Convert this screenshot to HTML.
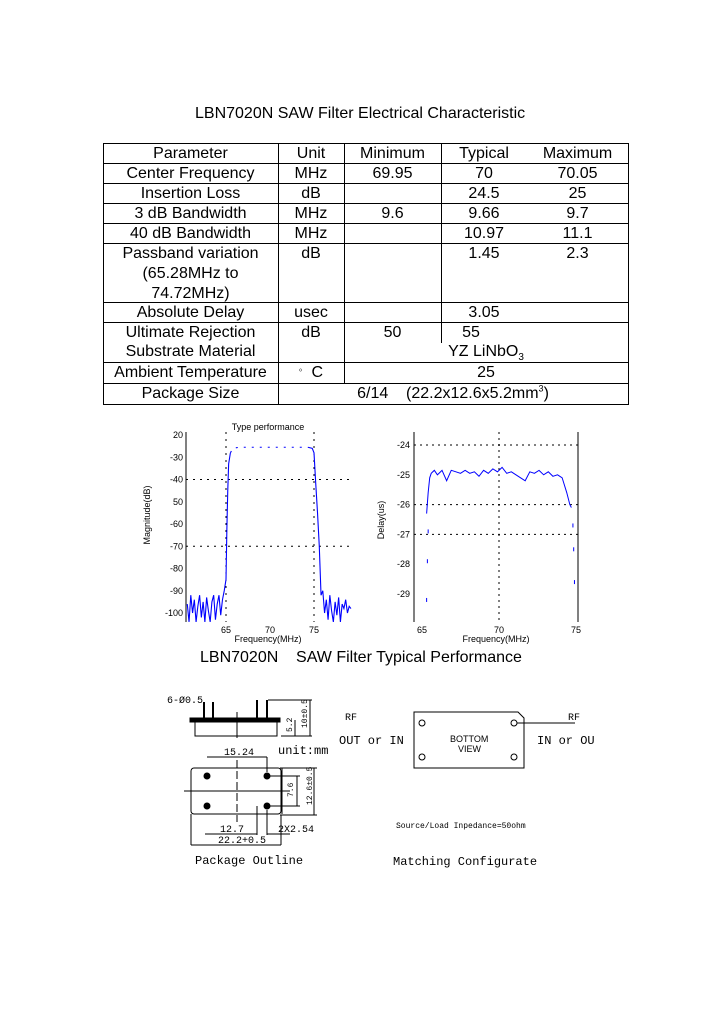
<!DOCTYPE html>
<html><head><meta charset="utf-8"><style>
body{margin:0;background:#fff;font-family:"Liberation Sans",sans-serif;}
#page{position:relative;width:720px;height:1012px;background:#fff;overflow:hidden;}
.t{position:absolute;white-space:nowrap;color:#000;}
.c{position:absolute;text-align:center;font-size:16px;line-height:20px;}
.c sup,.c sub{line-height:0;}
.hl{position:absolute;height:1px;background:#000;}
.vl{position:absolute;width:1px;background:#000;}
</style></head><body>
<div id="page">
<div class="t" style="left:195px;top:105px;font-size:16px;">LBN7020N SAW Filter Electrical Characteristic</div>

<div id="tbl" style="position:absolute;left:0;top:0;width:720px;height:420px;">
 <div class="hl" style="left:103px;top:143px;width:526px"></div>
 <div class="hl" style="left:103px;top:163px;width:526px"></div>
 <div class="hl" style="left:103px;top:183px;width:526px"></div>
 <div class="hl" style="left:103px;top:203px;width:526px"></div>
 <div class="hl" style="left:103px;top:223px;width:526px"></div>
 <div class="hl" style="left:103px;top:243px;width:526px"></div>
 <div class="hl" style="left:103px;top:302px;width:526px"></div>
 <div class="hl" style="left:103px;top:322px;width:526px"></div>
 <div class="hl" style="left:103px;top:362px;width:526px"></div>
 <div class="hl" style="left:103px;top:383px;width:526px"></div>
 <div class="hl" style="left:103px;top:404px;width:526px"></div>
 <div class="vl" style="left:103px;top:143px;height:262px"></div>
 <div class="vl" style="left:628px;top:143px;height:262px"></div>
 <div class="vl" style="left:278px;top:143px;height:262px"></div>
 <div class="vl" style="left:344px;top:143px;height:241px"></div>
 <div class="vl" style="left:441px;top:143px;height:200px"></div>

 <div class="c" style="left:103px;width:175px;top:144px">Parameter</div>
 <div class="c" style="left:278px;width:66px;top:144px">Unit</div>
 <div class="c" style="left:344px;width:97px;top:144px">Minimum</div>
 <div class="c" style="left:441px;width:86px;top:144px">Typical</div>
 <div class="c" style="left:527px;width:101px;top:144px">Maximum</div>

 <div class="c" style="left:103px;width:175px;top:164px">Center Frequency</div>
 <div class="c" style="left:278px;width:66px;top:164px">MHz</div>
 <div class="c" style="left:344px;width:97px;top:164px">69.95</div>
 <div class="c" style="left:441px;width:86px;top:164px">70</div>
 <div class="c" style="left:527px;width:101px;top:164px">70.05</div>

 <div class="c" style="left:103px;width:175px;top:184px">Insertion Loss</div>
 <div class="c" style="left:278px;width:66px;top:184px">dB</div>
 <div class="c" style="left:441px;width:86px;top:184px">24.5</div>
 <div class="c" style="left:527px;width:101px;top:184px">25</div>

 <div class="c" style="left:103px;width:175px;top:204px">3 dB Bandwidth</div>
 <div class="c" style="left:278px;width:66px;top:204px">MHz</div>
 <div class="c" style="left:344px;width:97px;top:204px">9.6</div>
 <div class="c" style="left:441px;width:86px;top:204px">9.66</div>
 <div class="c" style="left:527px;width:101px;top:204px">9.7</div>

 <div class="c" style="left:103px;width:175px;top:224px">40 dB Bandwidth</div>
 <div class="c" style="left:278px;width:66px;top:224px">MHz</div>
 <div class="c" style="left:441px;width:86px;top:224px">10.97</div>
 <div class="c" style="left:527px;width:101px;top:224px">11.1</div>

 <div class="c" style="left:103px;width:175px;top:244px">Passband variation<br>(65.28MHz to<br>74.72MHz)</div>
 <div class="c" style="left:278px;width:66px;top:244px">dB</div>
 <div class="c" style="left:441px;width:86px;top:244px">1.45</div>
 <div class="c" style="left:527px;width:101px;top:244px">2.3</div>

 <div class="c" style="left:103px;width:175px;top:303px">Absolute Delay</div>
 <div class="c" style="left:278px;width:66px;top:303px">usec</div>
 <div class="c" style="left:441px;width:86px;top:303px">3.05</div>

 <div class="c" style="left:103px;width:175px;top:323px">Ultimate Rejection</div>
 <div class="c" style="left:278px;width:66px;top:323px">dB</div>
 <div class="c" style="left:344px;width:97px;top:323px">50</div>
 <div class="c" style="left:441px;width:60px;top:323px">55</div>
 <div class="c" style="left:103px;width:175px;top:342px">Substrate Material</div>
 <div class="c" style="left:344px;width:284px;top:342px">YZ LiNbO<sub style="font-size:10px">3</sub></div>

 <div class="c" style="left:103px;width:175px;top:363px">Ambient Temperature</div>
 <div class="c" style="left:278px;width:66px;top:363px"><sup style="font-size:8px">。</sup> C</div>
 <div class="c" style="left:344px;width:284px;top:363px">25</div>

 <div class="c" style="left:103px;width:175px;top:384px">Package Size</div>
 <div class="c" style="left:278px;width:350px;top:384px">6/14&nbsp;&nbsp;&nbsp;&nbsp;(22.2x12.6x5.2mm<sup style="font-size:9px">3</sup>)</div>
</div>

<svg id="charts" width="720" height="1012" style="position:absolute;left:0;top:0" font-family="Liberation Sans, sans-serif"></svg>

<div class="t" style="left:200px;top:649px;font-size:16px;">LBN7020N&nbsp;&nbsp;&nbsp;&nbsp;SAW Filter Typical Performance</div>

<svg width="720" height="1012" style="position:absolute;left:0;top:0" font-family="Liberation Mono, monospace" font-size="10" stroke="#000" fill="none">
 <g>
  <rect x="190" y="718" width="90" height="4" fill="#000"/>
  <rect x="195" y="722" width="82" height="14"/>
  <line x1="204" y1="702" x2="204" y2="718" stroke-width="2"/>
  <line x1="213" y1="702" x2="213" y2="718" stroke-width="2"/>
  <line x1="257" y1="700" x2="257" y2="718" stroke-width="2"/>
  <line x1="267" y1="700" x2="267" y2="718" stroke-width="2"/>
  <line x1="237" y1="712" x2="237" y2="738"/>
  <line x1="268" y1="700" x2="312" y2="700"/>
  <line x1="281" y1="736" x2="312" y2="736"/>
  <line x1="310" y1="700" x2="310" y2="736"/>
  <line x1="295" y1="720" x2="295" y2="736"/>
 </g>
 <g>
  <rect x="191" y="768" width="90" height="46" rx="3"/>
  <line x1="282" y1="768" x2="282" y2="814"/>
  <line x1="184" y1="791" x2="290" y2="791"/>
  <line x1="237" y1="760" x2="237" y2="822" stroke-dasharray="8,3"/>
  <circle cx="207" cy="776" r="3" fill="#000"/><circle cx="267" cy="776" r="3" fill="#000"/>
  <circle cx="207" cy="806" r="3" fill="#000"/><circle cx="267" cy="806" r="3" fill="#000"/>
  <line x1="207" y1="757" x2="267" y2="757"/><line x1="267" y1="757" x2="267" y2="772"/>
  <line x1="267" y1="776" x2="300" y2="776"/><line x1="267" y1="806" x2="300" y2="806"/>
  <line x1="297" y1="776" x2="297" y2="806"/>
  <line x1="280" y1="768" x2="317" y2="768"/><line x1="280" y1="815" x2="317" y2="815"/><line x1="314" y1="768" x2="314" y2="815"/>
  <line x1="257" y1="806" x2="257" y2="835"/><line x1="267" y1="810" x2="267" y2="835"/>
  <line x1="205" y1="834" x2="257" y2="834"/><line x1="267" y1="834" x2="290" y2="834"/>
  <line x1="191" y1="814" x2="191" y2="845"/><line x1="281" y1="815" x2="281" y2="845"/>
  <line x1="191" y1="845" x2="281" y2="845"/>
 </g>
 <g stroke="none" fill="#000">
  <text x="167" y="703">6-Ø0.5</text>
  <text x="292" y="732" font-size="8" transform="rotate(-90 292 732)">5.2</text>
  <text x="307" y="728" font-size="8" transform="rotate(-90 307 728)">10±0.5</text>
  <text x="224" y="755">15.24</text>
  <text x="278" y="754" font-size="12">unit:mm</text>
  <text x="293" y="797" font-size="8" transform="rotate(-90 293 797)">7.6</text>
  <text x="312" y="805" font-size="8" transform="rotate(-90 312 805)">12.6±0.5</text>
  <text x="220" y="832">12.7</text>
  <text x="278" y="832">2X2.54</text>
  <text x="218" y="843">22.2+0.5</text>
  <text x="195" y="864" font-size="12">Package Outline</text>
 </g>
 <g>
  <path d="M414 712 H518 L524 718 V768 H414 Z"/>
  <circle cx="422" cy="723" r="3"/><circle cx="514" cy="723" r="3"/>
  <circle cx="422" cy="757" r="3"/><circle cx="514" cy="757" r="3"/>
  <line x1="517" y1="723" x2="575" y2="723"/>
  <g stroke="none" fill="#000">
   <text x="450" y="742" font-family="Liberation Sans, sans-serif" font-size="9">BOTTOM</text>
   <text x="458" y="752" font-family="Liberation Sans, sans-serif" font-size="9">VIEW</text>
   <text x="345" y="720" font-size="10">RF</text>
   <text x="339" y="744" font-size="12">OUT or IN</text>
   <text x="568" y="720" font-size="10">RF</text>
   <text x="537" y="744" font-size="12">IN or OU</text>
   <text x="396" y="828" font-size="8">Source/Load Inpedance=50ohm</text>
   <text x="393" y="865" font-size="12">Matching Configurate</text>
  </g>
 </g>
</svg>
</div>
<script>
// Magnitude chart data
const magFreq = [60.6,60.8,61,61.2,61.4,61.6,61.8,62,62.2,62.4,62.6,62.8,63,63.2,63.4,63.6,63.8,64,64.2,64.4,64.6,64.8,65.0,65.1,65.2,65.3,65.5,65.8,66.5,67.5,68.5,69.5,70.5,71.5,72.5,73.5,74.3,74.8,75.0,75.1,75.2,75.4,75.6,75.8,76,76.2,76.4,76.6,76.8,77,77.2,77.4,77.6,77.8,78,78.2,78.4,78.6,78.8,79,79.2];
const magDb = [-96,-104,-92,-100,-94,-104,-97,-92,-102,-95,-104,-93,-99,-104,-95,-92,-103,-96,-92,-101,-94,-90,-85,-62,-45,-33,-28,-26,-25.5,-25.5,-25.5,-25.5,-25.5,-25.5,-25.5,-25.5,-25.5,-26,-28,-35,-42,-55,-70,-92,-90,-100,-94,-103,-92,-99,-104,-95,-101,-93,-104,-96,-98,-94,-100,-97,-98];
const magYTicks = [-20,-30,-40,-50,-60,-70,-80,-90,-100];
const magYLabels = ["20","-30","-40","50","-60","-70","-80","-90","-100"];
const magXTicks = [65,70,75];
// Delay chart data
const delFreq = [65.3,65.4,65.5,65.6,65.8,66,66.3,66.6,66.9,67.2,67.5,67.8,68.1,68.4,68.7,69,69.3,69.6,69.9,70.2,70.5,70.8,71.1,71.4,71.7,72,72.3,72.6,72.9,73.2,73.5,73.8,74.1,74.4,74.6,74.7];
const delUs = [-26.3,-25.6,-25.1,-24.95,-24.85,-25,-24.85,-25.2,-24.85,-24.9,-24.95,-24.85,-24.95,-24.9,-25.05,-24.85,-24.95,-24.8,-24.9,-24.75,-24.95,-24.9,-25.0,-25.1,-25.2,-24.9,-24.95,-24.85,-25.0,-24.9,-25.05,-25.0,-25.1,-25.6,-26.0,-26.1];
const delOutliers = [[65.4,-26.9],[65.35,-27.9],[65.3,-29.2],[74.8,-26.7],[74.85,-27.5],[74.9,-28.6]];
const delYTicks = [-24,-25,-26,-27,-28,-29];
const delXTicks = [65,70,75];

const NS='http://www.w3.org/2000/svg';
const svg=document.getElementById('charts');
function mk(tag,attrs,parent){const e=document.createElementNS(NS,tag);for(const k in attrs)e.setAttribute(k,attrs[k]);(parent||svg).appendChild(e);return e;}
const mx=f=>226+(f-65)*8.8, my=d=>435+(-20-d)*2.225;
const dx=f=>422+(f-65)*15.4, dy=v=>445+(-24-v)*29.8;

// Chart 1
const g1=mk('g',{});


mk('line',{x1:186,y1:432,x2:186,y2:622,stroke:'#000'},g1);
[-40,-70].forEach(v=>{const l=mk('line',{x1:186,y1:my(v),x2:352,y2:my(v),stroke:'#000','stroke-dasharray':'2,5'},g1);});
magXTicks.forEach(f=>{if(f!==70){mk('line',{x1:mx(f),y1:432,x2:mx(f),y2:622,stroke:'#000','stroke-dasharray':'2,5'},g1);}
 const t=mk('text',{x:mx(f),y:633,'font-size':9,'text-anchor':'middle',fill:'#000'},g1);t.textContent=String(f);});
magYTicks.forEach((v,i)=>{const t=mk('text',{x:183,y:my(v)+3,'font-size':9,'text-anchor':'end',fill:'#000'},g1);t.textContent=magYLabels[i];});
// split: steep/noise parts solid, flat passband dotted
const pts=magFreq.map((f,i)=>[mx(f),Math.min(622,my(magDb[i])),magDb[i]]);
const solidA=[],flat=[],solidB=[];
pts.forEach((p,i)=>{const f=magFreq[i];if(f<65.8)solidA.push(p);else if(f<=74.3)flat.push(p);else solidB.push(p);});
flat.unshift(solidA[solidA.length-1]);solidB.unshift(flat[flat.length-1]);
[[solidA,''],[flat,'2,6'],[solidB,'']].forEach(([arr,da])=>{
 const pl=mk('polyline',{points:arr.map(p=>p[0]+','+p[1]).join(' '),fill:'none',stroke:'#0000ff','stroke-width':1.1,'stroke-dasharray':da||'none'},g1);
 
 
});
let tt=mk('text',{x:268,y:430,'font-size':9,'text-anchor':'middle',fill:'#000'},g1);tt.textContent='Type performance';


tt=mk('text',{x:268,y:642,'font-size':9,'text-anchor':'middle',fill:'#000'},g1);tt.textContent='Frequency(MHz)';


tt=mk('text',{x:150,y:515,'font-size':9,'text-anchor':'middle',fill:'#000',transform:'rotate(-90 150 515)'},g1);tt.textContent='Magnitude(dB)';



// Chart 2
const g2=mk('g',{});


mk('line',{x1:414,y1:432,x2:414,y2:622,stroke:'#000'},g2);
mk('line',{x1:578,y1:432,x2:578,y2:622,stroke:'#000'},g2);
[-24,-26,-27].forEach(v=>{const l=mk('line',{x1:414,y1:dy(v),x2:578,y2:dy(v),stroke:'#000','stroke-dasharray':'2,4'},g2);});
mk('line',{x1:dx(70),y1:432,x2:dx(70),y2:622,stroke:'#000','stroke-dasharray':'2,4'},g2);
delXTicks.forEach(f=>{const t=mk('text',{x:dx(f),y:633,'font-size':9,'text-anchor':'middle',fill:'#000'},g2);t.textContent=String(f);});
delYTicks.forEach(v=>{const t=mk('text',{x:410,y:dy(v)+3,'font-size':9,'text-anchor':'end',fill:'#000'},g2);t.textContent=String(v);});
const p2=mk('polyline',{points:delFreq.map((f,i)=>dx(f)+','+dy(delUs[i])).join(' '),fill:'none',stroke:'#0000ff','stroke-width':1},g2);


delOutliers.forEach(o=>{const l=mk('line',{x1:dx(o[0]),y1:dy(o[1])-2,x2:dx(o[0]),y2:dy(o[1])+2,stroke:'#0000ff'},g2);});
tt=mk('text',{x:496,y:642,'font-size':9,'text-anchor':'middle',fill:'#000'},g2);tt.textContent='Frequency(MHz)';


tt=mk('text',{x:384,y:520,'font-size':9,'text-anchor':'middle',fill:'#000',transform:'rotate(-90 384 520)'},g2);tt.textContent='Delay(us)';


</script>
</body></html>
